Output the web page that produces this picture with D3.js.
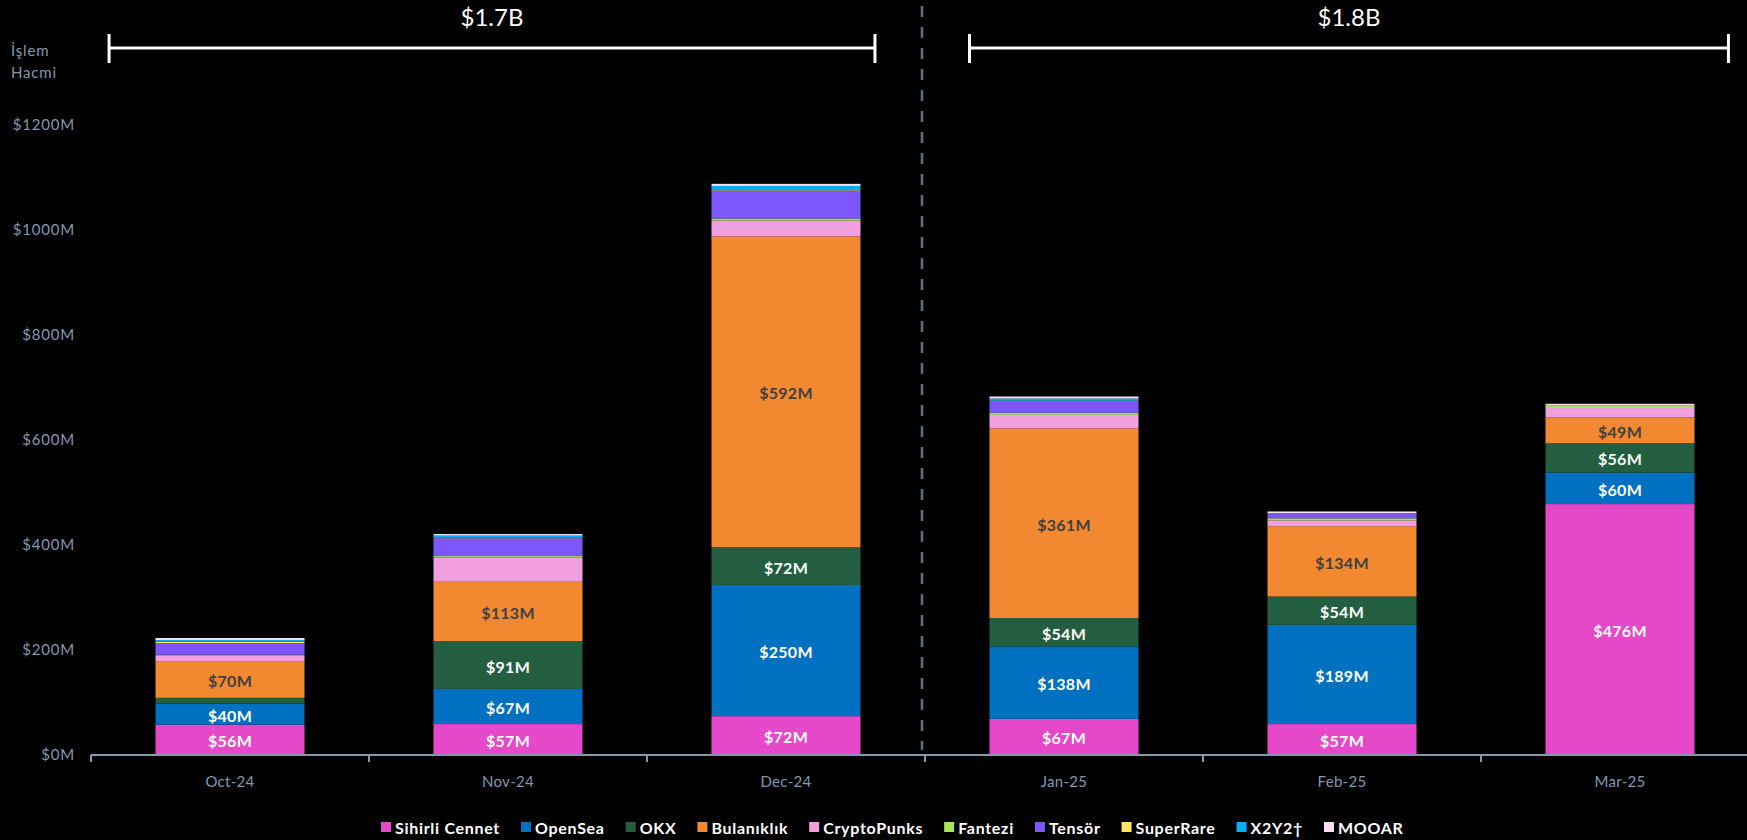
<!DOCTYPE html>
<html>
<head>
<meta charset="utf-8">
<script src="https://cdn.jsdelivr.net/npm/d3@7"></script>
<style>
  html, body { margin: 0; padding: 0; background: #000; }
  svg { display: block; }
  text { font-family: "Lato", "Open Sans", sans-serif; }
</style>
</head>
<body>
<svg id="chart" width="1747" height="840"></svg>
<script>
// ---------- data ----------
const categories = ["Oct-24", "Nov-24", "Dec-24", "Jan-25", "Feb-25", "Mar-25"];
const seriesNames = ["Sihirli Cennet", "OpenSea", "OKX", "Bulanıklık", "CryptoPunks", "Fantezi", "Tensör", "SuperRare", "X2Y2†", "MOOAR"];
const seriesColors = ["#E548C8", "#0070C0", "#245E41", "#F2882F", "#F29FE1", "#A8E35E", "#7D56FE", "#FFE566", "#00B0F0", "#FADFF2"];

const sihirliCennet = [56, 57, 72, 67, 57, 476];
const openSea       = [40, 67, 250, 138, 189, 60];
const okx           = [11, 91, 72, 54, 54, 56];
const bulaniklik    = [70, 113, 592, 361, 134, 49];
const cryptoPunks   = [11, 46, 30, 26, 11, 18];
const fantezi       = [1, 3, 4, 4, 4, 4];
const tensor        = [22, 34, 53, 22, 8, 0];
const superRare     = [3, 1, 1, 1, 1, 1];
const x2y2          = [3, 4, 8, 4, 1, 0];
const mooar         = [4, 3, 4, 4, 3, 3];

const seriesValues = [sihirliCennet, openSea, okx, bulaniklik, cryptoPunks, fantezi, tensor, superRare, x2y2, mooar];
const labeledSeries = ["Sihirli Cennet", "OpenSea", "OKX", "Bulanıklık"];
const minLabelValue = 20;
const yTicks = [0, 200, 400, 600, 800, 1000, 1200];
const periodGroups = [["Oct-24", "Nov-24", "Dec-24"], ["Jan-25", "Feb-25", "Mar-25"]];
const yAxisTitle = ["İşlem", "Hacmi"];

// ---------- layout ----------
const W = 1747, H = 840;
const svg = d3.select("#chart");
svg.append("rect").attr("width", W).attr("height", H).attr("fill", "#000");

const axisColor = "#8497B0";
const x = d3.scaleBand().domain(categories).range([91, 1759]).paddingInner(0.464).paddingOuter(0.232);
const y = d3.scaleLinear().domain([0, 1200]).range([754, 124]);

const table = categories.map((c, i) => {
  const row = { cat: c };
  seriesNames.forEach((s, k) => row[s] = seriesValues[k][i]);
  return row;
});
const stack = d3.stack().keys(seriesNames)(table);
const color = d3.scaleOrdinal().domain(seriesNames).range(seriesColors);

// bars
const layers = svg.append("g").selectAll("g").data(stack).join("g").attr("fill", d => color(d.key));
layers.selectAll("rect").data(d => d).join("rect")
  .attr("x", d => x(d.data.cat))
  .attr("width", x.bandwidth())
  .attr("y", d => y(d[1]))
  .attr("height", d => Math.max(0, y(d[0]) - y(d[1])));

// bar labels
const labelG = svg.append("g");
stack.filter(l => labeledSeries.includes(l.key)).forEach(l => {
  labelG.selectAll(null).data(l.filter(d => d[1] - d[0] >= minLabelValue)).join("text")
    .attr("x", d => x(d.data.cat) + x.bandwidth() / 2)
    .attr("y", d => (y(d[0]) + y(d[1])) / 2 + 1)
    .attr("text-anchor", "middle")
    .attr("dominant-baseline", "central")
    .attr("font-size", 16)
    .attr("font-weight", 700)
    .attr("letter-spacing", 0.3)
    .attr("fill", l.key === "Bulanıklık" ? "#404040" : "#FFFFFF")
    .text(d => "$" + (d[1] - d[0]) + "M");
});

// x axis
const xAxisG = svg.append("g");
xAxisG.append("line").attr("x1", 91).attr("x2", W).attr("y1", 755).attr("y2", 755)
  .attr("stroke", axisColor).attr("stroke-width", 2);
const step = x.step();
const bounds = categories.map(c => x(c) - x.paddingInner() * step / 2);
xAxisG.selectAll("line.tick").data(bounds).join("line").attr("class", "tick")
  .attr("x1", d => d).attr("x2", d => d).attr("y1", 755).attr("y2", 762)
  .attr("stroke", axisColor).attr("stroke-width", 2);
xAxisG.selectAll("text").data(categories).join("text")
  .attr("x", d => x(d) + x.bandwidth() / 2)
  .attr("y", 781)
  .attr("text-anchor", "middle").attr("dominant-baseline", "central")
  .attr("font-size", 15).attr("fill", axisColor).attr("letter-spacing", 0.3)
  .text(d => d);

// y axis labels
svg.append("g").selectAll("text").data(yTicks).join("text")
  .attr("x", 75).attr("y", d => y(d))
  .attr("text-anchor", "end").attr("dominant-baseline", "central")
  .attr("font-size", 15).attr("fill", axisColor).attr("letter-spacing", 0.8)
  .text(d => "$" + d + "M");

svg.append("g").selectAll("text").data(yAxisTitle).join("text")
  .attr("x", 11).attr("y", (d, i) => 50 + i * 22)
  .attr("dominant-baseline", "central")
  .attr("font-size", 15).attr("fill", axisColor).attr("letter-spacing", 0.8)
  .text(d => d);

// divider
const divX = (x("Dec-24") + x.bandwidth() + x("Jan-25")) / 2 - 3;
svg.append("line").attr("x1", divX).attr("x2", divX).attr("y1", 6).attr("y2", 750)
  .attr("stroke", "#5E7380").attr("stroke-width", 2.5).attr("stroke-dasharray", "11,10");

// period brackets with totals
const totals = table.map(r => d3.sum(seriesNames, s => r[s]));
const bracketFrac = [[0.065, 0.82], [0.16, 0.89]];
periodGroups.forEach((g, gi) => {
  const x1 = x(g[0]) - x.paddingInner() * step / 2 + bracketFrac[gi][0] * step;
  const x2 = x(g[g.length - 1]) - x.paddingInner() * step / 2 + bracketFrac[gi][1] * step;
  const sum = d3.sum(g, c => totals[categories.indexOf(c)]);
  const bg = svg.append("g").attr("stroke", "#FFFFFF").attr("stroke-width", 3);
  bg.append("line").attr("x1", x1).attr("x2", x2).attr("y1", 48).attr("y2", 48);
  bg.append("line").attr("x1", x1).attr("x2", x1).attr("y1", 34).attr("y2", 63);
  bg.append("line").attr("x1", x2).attr("x2", x2).attr("y1", 34).attr("y2", 63);
  svg.append("text").attr("x", (x1 + x2) / 2).attr("y", 16)
    .attr("text-anchor", "middle").attr("dominant-baseline", "central")
    .attr("font-size", 24).attr("fill", "#FFFFFF")
    .text("$" + (sum / 1000).toFixed(1) + "B");
});

// legend
const legend = svg.append("g");
let lx = 381;
seriesNames.forEach((s, i) => {
  legend.append("rect").attr("x", lx).attr("y", 822).attr("width", 10).attr("height", 10).attr("fill", color(s));
  const t = legend.append("text").attr("x", lx + 14).attr("y", 827)
    .attr("dominant-baseline", "central")
    .attr("font-size", 16).attr("font-weight", 700).attr("fill", "#FFFFFF")
    .attr("letter-spacing", 0.7)
    .text(s);
  lx += 14 + t.node().getComputedTextLength() + 21;
});
</script>
</body>
</html>
